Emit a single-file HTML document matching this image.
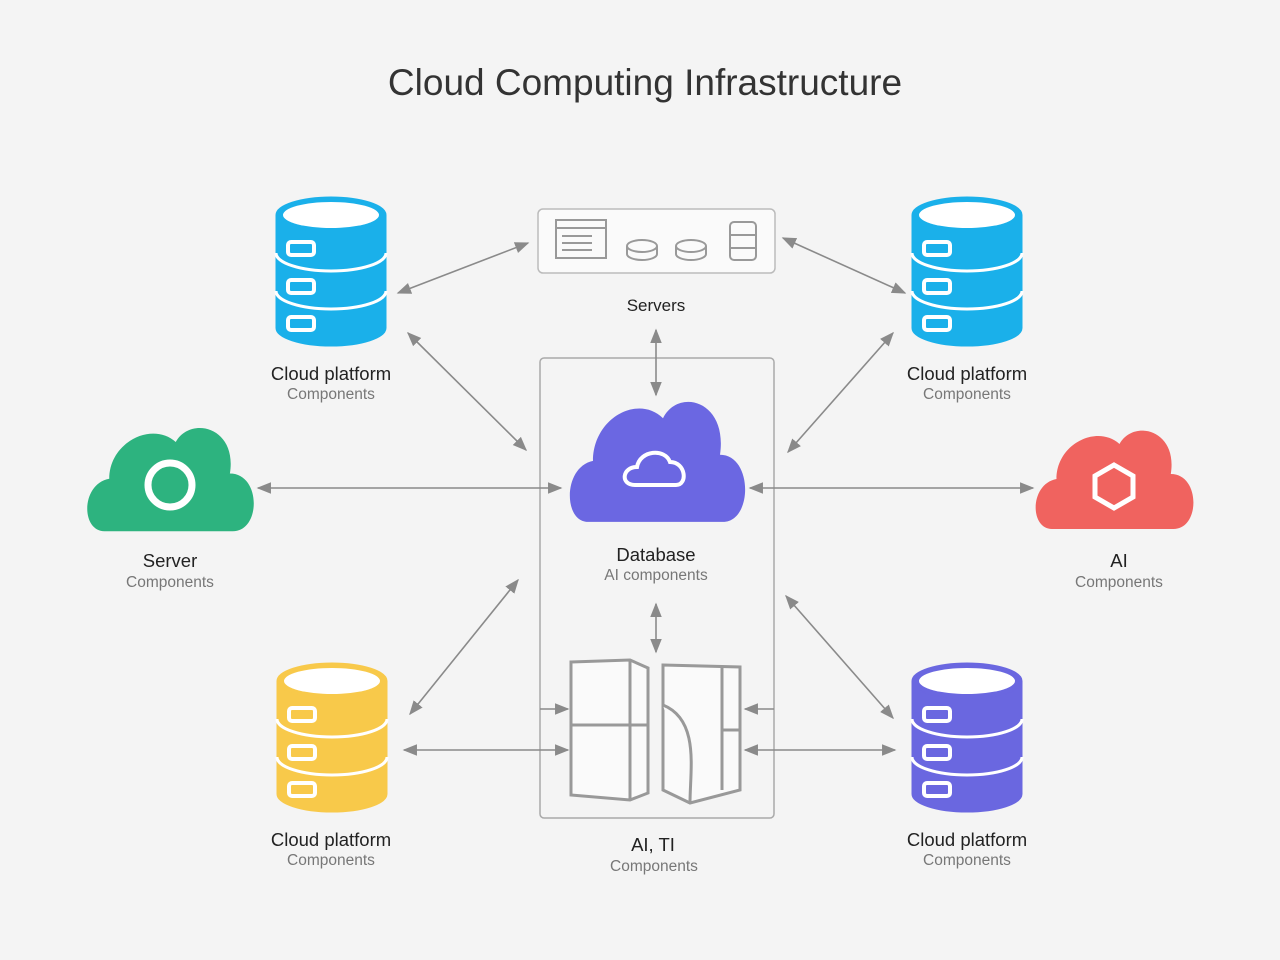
<!DOCTYPE html>
<html><head><meta charset="utf-8"><style>
body{margin:0;background:#f4f4f4;}
svg{display:block;font-family:"Liberation Sans",sans-serif;}
</style></head><body>
<svg width="1280" height="960" viewBox="0 0 1280 960">
<defs>
<marker id="a" viewBox="0 0 10 10" refX="9" refY="5" markerWidth="9" markerHeight="9" orient="auto-start-reverse"><path d="M0,1 L10,5 L0,9 z" fill="#8a8a8a"/></marker>
<g id="cyl">
<path d="M-55,0 V113 A55,18 0 0 0 55,113 V0" />
<ellipse cx="0" cy="0" rx="55" ry="18"/>
<ellipse cx="0" cy="0" rx="48" ry="13" fill="#fff" stroke="none"/>
<path d="M-55,38 A55,18 0 0 0 55,38 M-55,76 A55,18 0 0 0 55,76" fill="none" stroke="#fff" stroke-width="3"/>
<rect x="-43" y="27" width="26" height="13" rx="3" fill="none" stroke="#fff" stroke-width="4"/>
<rect x="-43" y="65" width="26" height="13" rx="3" fill="none" stroke="#fff" stroke-width="4"/>
<rect x="-43" y="102" width="26" height="13" rx="3" fill="none" stroke="#fff" stroke-width="4"/>
</g>
<path id="cloud" d="M-70,45 C-95,45 -95,0 -65,-5 C-65,-40 -20,-60 5,-40 C20,-65 70,-55 62,-10 C95,-10 95,45 65,45 Z"/>
</defs>
<text x="645" y="95" font-size="37" fill="#333" text-anchor="middle">Cloud Computing Infrastructure</text>

<g fill="#1ab0ea" stroke="#1ab0ea"><use href="#cyl" x="331" y="215"/></g>
<g fill="#1ab0ea" stroke="#1ab0ea"><use href="#cyl" x="967" y="215"/></g>
<g fill="#f8c94a" stroke="#f8c94a"><use href="#cyl" x="332" y="681"/></g>
<g fill="#6a67e0" stroke="#6a67e0"><use href="#cyl" x="967" y="681"/></g>

<use href="#cloud" fill="#2db37f" transform="translate(171,484) scale(0.95,1.05)"/>
<use href="#cloud" fill="#f0635f" transform="translate(1115,484) scale(0.9,1.0)"/>
<use href="#cloud" fill="#6b67e2" transform="translate(658,467) scale(1.0,1.22)"/>
<circle cx="170" cy="485" r="22" fill="none" stroke="#fff" stroke-width="7"/>
<path d="M635,485 C620,485 622,467 637,467 C640,450 665,448 670,462 C686,462 688,485 676,485 Z" fill="none" stroke="#fff" stroke-width="4"/>
<path d="M1114,465 L1133,476 V497 L1114,508 L1095,497 V476 Z" fill="none" stroke="#fff" stroke-width="5"/>

<rect x="538" y="209" width="237" height="64" rx="5" fill="#fafafa" stroke="#bbb" stroke-width="1.5"/>
<g fill="none" stroke="#999" stroke-width="2">
<rect x="556" y="220" width="50" height="38"/>
<path d="M556,228 h50 M562,236 h30 M562,243 h30 M562,250 h30"/>
<ellipse cx="642" cy="246" rx="15" ry="6"/><path d="M627,246 v8 a15,6 0 0 0 30,0 v-8"/>
<ellipse cx="691" cy="246" rx="15" ry="6"/><path d="M676,246 v8 a15,6 0 0 0 30,0 v-8"/>
<rect x="730" y="222" width="26" height="38" rx="4"/><path d="M730,235 h26 M730,248 h26"/>
</g>
<text x="656" y="311" font-size="17" fill="#222" text-anchor="middle">Servers</text>
<rect x="540" y="358" width="234" height="460" rx="4" fill="none" stroke="#aaa" stroke-width="1.5"/>

<g fill="#fafafa" stroke="#999" stroke-width="3">
<path d="M571,662 L630,660 L648,668 V793 L630,800 L571,795 Z"/>
<path d="M630,660 V800 M571,725 H648"/>
<path d="M663,665 L740,667 V790 L690,803 L663,790 Z"/>
<path d="M722,667 V790 M722,730 H740 M663,705 C700,720 690,770 690,803"/>
</g>

<g stroke="#8a8a8a" stroke-width="1.6" fill="none" marker-start="url(#a)" marker-end="url(#a)">
<line x1="398" y1="293" x2="528" y2="243"/>
<line x1="783" y1="238" x2="905" y2="293"/>
<line x1="408" y1="333" x2="526" y2="450"/>
<line x1="893" y1="333" x2="788" y2="452"/>
<line x1="258" y1="488" x2="561" y2="488"/>
<line x1="750" y1="488" x2="1033" y2="488"/>
<line x1="656" y1="330" x2="656" y2="395"/>
<line x1="656" y1="604" x2="656" y2="652"/>
<line x1="518" y1="580" x2="410" y2="714"/>
<line x1="786" y1="596" x2="893" y2="718"/>
<line x1="404" y1="750" x2="568" y2="750"/>
<line x1="745" y1="750" x2="895" y2="750"/>
</g>
<g stroke="#8a8a8a" stroke-width="1.6" marker-end="url(#a)">
<line x1="540" y1="709" x2="568" y2="709"/>
<line x1="774" y1="709" x2="745" y2="709"/>
</g>

<g text-anchor="middle">
<text x="331" y="380" font-size="18.5" fill="#222">Cloud platform</text>
<text x="331" y="399" font-size="15.5" fill="#777">Components</text>
<text x="967" y="380" font-size="18.5" fill="#222">Cloud platform</text>
<text x="967" y="399" font-size="15.5" fill="#777">Components</text>
<text x="170" y="567" font-size="18.5" fill="#222">Server</text>
<text x="170" y="587" font-size="15.5" fill="#777">Components</text>
<text x="1119" y="567" font-size="18.5" fill="#222">AI</text>
<text x="1119" y="587" font-size="15.5" fill="#777">Components</text>
<text x="656" y="561" font-size="18.5" fill="#222">Database</text>
<text x="656" y="580" font-size="15.5" fill="#777">AI components</text>
<text x="331" y="846" font-size="18.5" fill="#222">Cloud platform</text>
<text x="331" y="865" font-size="15.5" fill="#777">Components</text>
<text x="967" y="846" font-size="18.5" fill="#222">Cloud platform</text>
<text x="967" y="865" font-size="15.5" fill="#777">Components</text>
<text x="653" y="851" font-size="18.5" fill="#222">AI, TI</text>
<text x="654" y="871" font-size="15.5" fill="#777">Components</text>
</g>
</svg>
</body></html>
